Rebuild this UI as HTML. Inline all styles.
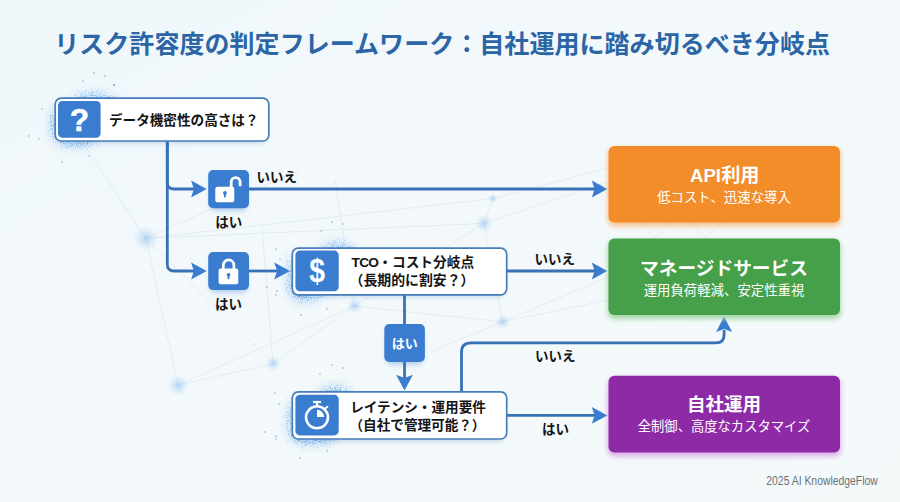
<!DOCTYPE html>
<html lang="ja">
<head>
<meta charset="utf-8">
<title>リスク許容度の判定フレームワーク</title>
<style>
  html, body { margin: 0; padding: 0; }
  body { width: 900px; height: 502px; overflow: hidden; background: #f3f8fa; }
  svg { display: block; }
  text { font-family: "Liberation Sans", "Noto Sans CJK JP", sans-serif; }
  .b { font-weight: 700; }
  .lbl { font-weight: 700; font-size: 13.5px; fill: #141414; }
  .box { fill: #ffffff; stroke: #477dba; stroke-width: 1.7; }
  .ic { fill: #3a7dd0; }
  .ln { fill: none; stroke: #3871b6; stroke-width: 2.8; stroke-linejoin: round; }
  .ah { fill: #3a7dd0; }
  .mesh { fill: none; stroke: #b9c9dc; stroke-width: 1; opacity: .28; }
</style>
</head>
<body>
<svg width="900" height="502" viewBox="0 0 900 502">
  <defs>
    <linearGradient id="bg" x1="0" y1="0" x2="1" y2="1">
      <stop offset="0" stop-color="#f0f7fb"/>
      <stop offset="0.5" stop-color="#f3f9fb"/>
      <stop offset="1" stop-color="#f4f9fa"/>
    </linearGradient>
    <radialGradient id="glow">
      <stop offset="0" stop-color="#5aa2ea" stop-opacity=".55"/>
      <stop offset="0.5" stop-color="#7db6ee" stop-opacity=".22"/>
      <stop offset="1" stop-color="#a9cff3" stop-opacity="0"/>
    </radialGradient>
    <radialGradient id="node">
      <stop offset="0" stop-color="#78b2f0" stop-opacity=".5"/>
      <stop offset="1" stop-color="#a9cff3" stop-opacity="0"/>
    </radialGradient>
    <filter id="speck" x="-40%" y="-60%" width="180%" height="220%" color-interpolation-filters="sRGB">
      <feGaussianBlur in="SourceAlpha" stdDeviation="5.5" result="halo"/>
      <feTurbulence type="fractalNoise" baseFrequency="0.8" numOctaves="2" seed="7" result="n"/>
      <feColorMatrix in="n" type="matrix" values="0 0 0 0 0.26  0 0 0 0 0.56  0 0 0 0 0.86  0 0 0 10 -5.3" result="dots"/>
      <feComposite in="dots" in2="halo" operator="in" result="md"/>
      <feFlood flood-color="#a4cdf4" flood-opacity=".75"/>
      <feComposite in2="halo" operator="in" result="haze"/>
      <feMerge><feMergeNode in="haze"/><feMergeNode in="md"/></feMerge>
    </filter>
    <filter id="cs" x="-30%" y="-30%" width="160%" height="180%">
      <feGaussianBlur stdDeviation="2.6"/>
    </filter>
    <filter id="sh" x="-10%" y="-20%" width="120%" height="140%">
      <feGaussianBlur stdDeviation="2.6"/>
    </filter>
  </defs>

  <!-- background -->
  <rect width="900" height="502" fill="url(#bg)"/>

  <!-- faint network mesh -->
  <g class="mesh" id="mesh">
    <path d="M145.7 238.3 L81 140 M145.7 238.3 L178.2 385.3 M145.7 238.3 L273.1 363.6 M145.7 238.3 L484 223.4 M145.7 238.3 L493 198.6 M145.7 238.3 L300 170"/>
    <path d="M178.2 385.3 L273.1 363.6 L354.4 306 L502.5 321.9 M178.2 385.3 L354.4 306 M273.1 363.6 L262 228 M354.4 306 L484 223.4 M354.4 306 L335 180"/>
    <path d="M484 223.4 L493 198.6 L608 168 M484 223.4 L608 182 M484 223.4 L502.5 321.9 M502.5 321.9 L608 277 M502.5 321.9 L608 300 M502.5 321.9 L430 352"/>
    <path d="M640 222 L655 238 L672 222 M690 222 L705 238 L722 222"/>
  </g>
  <g id="nodes">
    <circle cx="145.7" cy="238.3" r="13" fill="url(#node)"/>
    <circle cx="178.2" cy="385.3" r="11" fill="url(#node)"/>
    <circle cx="273.1" cy="363.6" r="8" fill="url(#node)"/>
    <circle cx="354.4" cy="306" r="8" fill="url(#node)"/>
    <circle cx="484" cy="223.4" r="9" fill="url(#node)"/>
    <circle cx="493" cy="198.6" r="5" fill="url(#node)"/>
    <circle cx="502.5" cy="321.9" r="8" fill="url(#node)"/>
  </g>

  <!-- particle glows -->
  <g id="glows">
    <g filter="url(#speck)">
      <ellipse cx="94" cy="105" rx="23" ry="10"/>
      <ellipse cx="63" cy="124" rx="11" ry="19"/>
      <ellipse cx="76" cy="135" rx="21" ry="10"/>
    </g>
    <g filter="url(#speck)">
      <ellipse cx="337" cy="254" rx="17" ry="10"/>
      <ellipse cx="300" cy="277" rx="11" ry="23"/>
      <ellipse cx="307" cy="289" rx="17" ry="10"/>
    </g>
    <g filter="url(#speck)">
      <ellipse cx="335" cy="398" rx="17" ry="10"/>
      <ellipse cx="300" cy="420" rx="11" ry="21"/>
      <ellipse cx="313" cy="433" rx="23" ry="10"/>
    </g>
    <g fill="#4b7db8" opacity=".75">
      <circle cx="94" cy="73" r=".75"/><circle cx="105" cy="76" r=".75"/><circle cx="83" cy="81" r=".7"/><circle cx="114" cy="85" r="1"/>
      <circle cx="42" cy="109" r=".75"/><circle cx="29" cy="136" r=".65"/><circle cx="39" cy="139" r=".65"/><circle cx="62" cy="162" r=".75"/><circle cx="89" cy="156" r=".65"/>
      <circle cx="332" cy="222" r=".75"/><circle cx="321" cy="231" r=".65"/><circle cx="343" cy="224" r=".65"/><circle cx="276" cy="249" r=".65"/><circle cx="280" cy="259" r=".65"/>
      <circle cx="267" cy="287" r=".75"/><circle cx="277" cy="291" r=".75"/><circle cx="276" cy="295" r=".65"/><circle cx="301" cy="315" r=".75"/><circle cx="327" cy="309" r=".65"/>
      <circle cx="332" cy="365" r=".75"/><circle cx="343" cy="368" r=".75"/><circle cx="320" cy="374" r=".65"/><circle cx="275" cy="393" r=".65"/><circle cx="279" cy="404" r=".75"/>
      <circle cx="265" cy="432" r=".75"/><circle cx="276" cy="436" r=".75"/><circle cx="276" cy="439" r=".65"/><circle cx="300" cy="458" r=".75"/><circle cx="327" cy="451" r=".65"/>
    </g>
  </g>

  <!-- title -->
  <text x="54.2" y="53" class="b" font-size="25" letter-spacing=".05" fill="#2b65a5">リスク許容度の判定フレームワーク：自社運用に踏み切るべき分岐点</text>

  <!-- connectors -->
  <g id="lines">
    <path class="ln" d="M167.3 141.5 V264.2 Q167.3 271 174.1 271 H195"/>
    <path class="ln" d="M167.3 141.5 V182.2 Q167.3 189 174.1 189 H195"/>
    <path class="ln" d="M249 189 H595"/>
    <path class="ln" d="M249 271 H278"/>
    <path class="ln" d="M507 271 H595"/>
    <path class="ln" d="M404.5 295 V378"/>
    <path class="ln" d="M507 415.4 H595"/>
    <path class="ln" d="M461.5 391 V352.3 Q461.5 342.8 471 342.8 H716 Q724.1 342.8 724.1 334.7 V330"/>
  </g>
  <g id="heads">
    <path class="ah" d="M206.7 189.0 L191.1 180.6 L193.9 189.0 L191.1 197.4 Z"/>
    <path class="ah" d="M206.7 271.0 L191.1 262.6 L193.9 271.0 L191.1 279.4 Z"/>
    <path class="ah" d="M289.9 271.0 L274.3 262.6 L277.1 271.0 L274.3 279.4 Z"/>
    <path class="ah" d="M607.4 189.0 L591.8 180.6 L594.6 189.0 L591.8 197.4 Z"/>
    <path class="ah" d="M607.4 271.0 L591.8 262.6 L594.6 271.0 L591.8 279.4 Z"/>
    <path class="ah" d="M607.4 415.4 L591.8 407.0 L594.6 415.4 L591.8 423.8 Z"/>
    <path class="ah" d="M404.5 390.6 L396.1 374.8 L404.5 378.0 L412.9 374.8 Z"/>
    <path class="ah" d="M724.1 316.4 L716.1 332.0 L724.1 329.0 L732.1 332.0 Z"/>
  </g>

  <!-- box 1 -->
  <g id="q1">
    <rect x="58" y="103" width="208" height="40" rx="6" fill="#3d78b8" opacity=".28" filter="url(#cs)"/>
    <rect class="box" x="55.2" y="98.2" width="213.6" height="42.8" rx="6"/>
    <rect class="ic" x="58" y="101" width="42.6" height="36.8" rx="4.5"/>
    <text transform="translate(79.5 131) scale(1.02 1)" text-anchor="middle" class="b" font-size="31" fill="#fff" stroke="#fff" stroke-width=".5">?</text>
    <text x="109" y="124.6" class="b" font-size="13.6" fill="#141414">データ機密性の高さは？</text>
  </g>

  <!-- unlock icon -->
  <g id="unlock">
    <rect x="210" y="176" width="37.2" height="35" rx="5" fill="#3a7dd0" opacity=".32" filter="url(#cs)"/>
    <rect class="ic" x="208.2" y="170" width="40.8" height="38.2" rx="5"/>
    <rect x="215.3" y="186.8" width="19" height="15.4" rx="2" fill="#fff"/>
    <path d="M231.2 187.5 V182 A4.45 4.45 0 0 1 240.1 182 V186.3" fill="none" stroke="#fff" stroke-width="2.8"/>
    <circle cx="224.9" cy="193" r="1.9" class="ic"/>
    <rect x="224" y="193" width="1.8" height="4.4" class="ic"/>
  </g>
  <text x="256.5" y="182.2" class="lbl">いいえ</text>
  <text x="228.7" y="227" text-anchor="middle" class="lbl">はい</text>

  <!-- lock icon -->
  <g id="lock">
    <rect x="210" y="258" width="37.2" height="35" rx="5" fill="#3a7dd0" opacity=".32" filter="url(#cs)"/>
    <rect class="ic" x="208.2" y="252.1" width="40.8" height="38" rx="5"/>
    <rect x="218.6" y="268.5" width="19.7" height="15.7" rx="2" fill="#fff"/>
    <path d="M223.3 269.5 V265.2 A5.3 5.3 0 0 1 233.9 265.2 V269.5" fill="none" stroke="#fff" stroke-width="2.7"/>
    <circle cx="228.5" cy="274.8" r="1.9" class="ic"/>
    <rect x="227.6" y="274.8" width="1.8" height="4.4" class="ic"/>
  </g>
  <text x="228.5" y="308.6" text-anchor="middle" class="lbl">はい</text>

  <!-- TCO box -->
  <g id="tco">
    <rect x="295" y="254" width="209" height="43" rx="6" fill="#3d78b8" opacity=".28" filter="url(#cs)"/>
    <rect class="box" x="292.3" y="248.2" width="214.4" height="46.6" rx="6"/>
    <rect class="ic" x="295.4" y="250.6" width="43.3" height="40.6" rx="4.5"/>
    <text transform="translate(317.2 281.8) scale(.84 1)" text-anchor="middle" class="b" font-size="33.7" fill="#fff">$</text>
    <text x="412.8" y="267.2" text-anchor="middle" class="b" font-size="13.7" fill="#141414"><tspan letter-spacing="-.7">TCO</tspan>・コスト分岐点</text>
    <text x="412" y="284.8" text-anchor="middle" class="b" font-size="13.9" fill="#141414">（長期的に割安？）</text>
  </g>
  <text x="534.5" y="263.8" class="lbl">いいえ</text>

  <!-- yes chip -->
  <g id="yes">
    <rect x="386" y="330" width="37.2" height="35" rx="5" fill="#3a7dd0" opacity=".32" filter="url(#cs)"/>
    <rect class="ic" x="384.3" y="324" width="40.6" height="38" rx="5"/>
    <text x="404.7" y="348" text-anchor="middle" class="b" font-size="13" fill="#fff">はい</text>
  </g>

  <!-- latency box -->
  <g id="lat">
    <rect x="295" y="398" width="209" height="43.5" rx="6" fill="#3d78b8" opacity=".28" filter="url(#cs)"/>
    <rect class="box" x="292.3" y="391.8" width="214.4" height="47.2" rx="6"/>
    <rect class="ic" x="295.4" y="394.8" width="43.3" height="40.6" rx="4.5"/>
    <circle cx="317" cy="417.3" r="11" fill="none" stroke="#fff" stroke-width="2.5"/>
    <path d="M317 417 V409.8 A7.2 7.2 0 0 1 324.2 417 Z" fill="#fff"/>
    <rect x="313" y="400.9" width="8" height="2.2" fill="#fff"/>
    <rect x="315.9" y="402" width="2.2" height="4" fill="#fff"/>
    <path d="M325 408.7 L327.4 406.7" stroke="#fff" stroke-width="2" stroke-linecap="round"/>
    <text x="418" y="412.2" text-anchor="middle" class="b" font-size="13.6" fill="#141414">レイテンシ・運用要件</text>
    <text x="417.5" y="430" text-anchor="middle" class="b" font-size="13.6" fill="#141414">（自社で管理可能？）</text>
  </g>
  <text x="535" y="361.3" class="lbl">いいえ</text>
  <text x="542" y="434" class="lbl">はい</text>

  <!-- result boxes -->
  <g id="api">
    <rect x="607.5" y="148" width="233.5" height="78.5" rx="7" fill="#f9b777" opacity=".8" filter="url(#sh)"/>
    <rect x="608.5" y="146" width="231.5" height="76.5" rx="5.8" fill="#f28d2a"/>
    <text x="690" y="181.8" class="b" font-size="19.2" fill="#fff"><tspan textLength="31" lengthAdjust="spacingAndGlyphs">API</tspan><tspan x="721.2">利用</tspan></text>
    <text x="724" y="201.6" text-anchor="middle" font-size="13.4" fill="#fff">低コスト、迅速な導入</text>
  </g>
  <g id="managed">
    <rect x="607.5" y="240.5" width="233.5" height="78.5" rx="7" fill="#93cf96" opacity=".8" filter="url(#sh)"/>
    <rect x="608.5" y="238.5" width="231.5" height="76.5" rx="5.8" fill="#45a049"/>
    <text x="724" y="274.5" text-anchor="middle" class="b" font-size="18.7" fill="#fff">マネージドサービス</text>
    <text x="724" y="294.8" text-anchor="middle" font-size="13.4" fill="#fff">運用負荷軽減、安定性重視</text>
  </g>
  <g id="self">
    <rect x="607.5" y="378" width="233.5" height="78.5" rx="7" fill="#d79be6" opacity=".8" filter="url(#sh)"/>
    <rect x="608.5" y="375.8" width="231.5" height="76.7" rx="5.8" fill="#8f2aa7"/>
    <text x="724" y="410.8" text-anchor="middle" class="b" font-size="18.5" fill="#fff">自社運用</text>
    <text x="724" y="430.8" text-anchor="middle" font-size="13.3" fill="#fff">全制御、高度なカスタマイズ</text>
  </g>

  <!-- footer -->
  <text x="766.3" y="485.2" textLength="111.5" lengthAdjust="spacingAndGlyphs" font-size="12" fill="#6a6f77">2025 AI KnowledgeFlow</text>
</svg>
</body>
</html>
